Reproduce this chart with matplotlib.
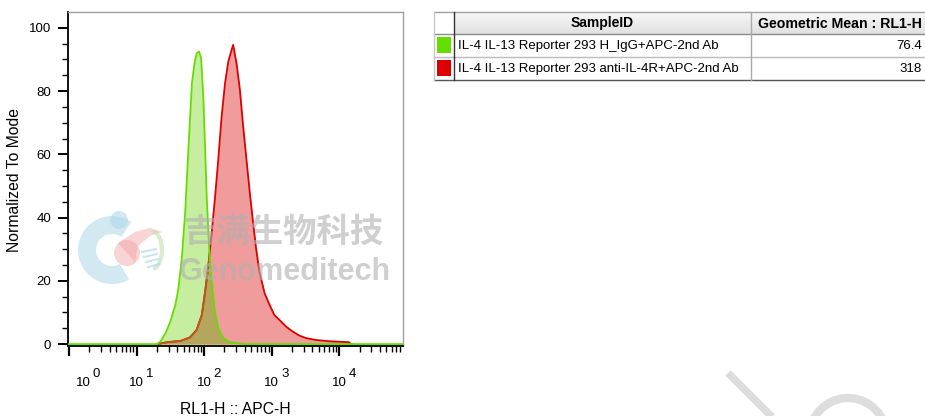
import numpy as np
import matplotlib
matplotlib.use("Agg")
import matplotlib.pyplot as plt
from matplotlib.patches import Rectangle, Wedge, Arc, Circle, Ellipse, Polygon

plt.rcParams['font.family'] = ['Liberation Sans', 'DejaVu Sans']

# ---- data ----
green_log = [-0.1, 1.30, 1.353, 1.43, 1.50, 1.574, 1.62, 1.67, 1.72, 1.77, 1.82, 1.858, 1.892,
             1.926, 1.956, 1.99, 2.015, 2.04, 2.078, 2.113, 2.16, 2.21, 2.284, 2.38, 2.53, 2.6, 5.0]
green_y = [0, 0, 0.8, 3.5, 7.1, 12.4, 17.6, 27, 41.7, 62.6, 82.5, 88.8, 92,
           92.5, 90.4, 77.3, 61.6, 45.9, 29.1, 19.7, 10.3, 5.0, 1.9, 0.6, 0.2, 0, 0]
red_log = [1.35, 1.45, 1.65, 1.79, 1.89, 1.966, 2.015, 2.064, 2.113, 2.16, 2.21, 2.26, 2.31,
           2.358, 2.407, 2.43, 2.48, 2.53, 2.578, 2.627, 2.676, 2.725, 2.77, 2.82, 2.897,
           2.97, 3.04, 3.118, 3.216, 3.31, 3.41, 3.51, 3.657, 3.85, 4.147, 4.17]
red_y = [0.2, 0.6, 1.0, 2.1, 4.5, 9.2, 16.5, 25, 35.4, 45.9, 58.4, 72, 82.5,
         89.3, 93, 94.6, 88.8, 80.4, 68.9, 58.4, 48, 38.5, 30.2, 22.8, 16,
         12.4, 9.2, 7.6, 5.5, 4.0, 2.7, 1.9, 1.3, 0.9, 0.6, 0]

y_ticks = [0, 20, 40, 60, 80, 100]
x_decades = [0, 1, 2, 3, 4]

sample_ids = ["IL-4 IL-13 Reporter 293 H_IgG+APC-2nd Ab",
              "IL-4 IL-13 Reporter 293 anti-IL-4R+APC-2nd Ab"]
geo_means = ["76.4", "318"]
sample_colors = ["#66dd00", "#dd0000"]
col_headers = ["SampleID", "Geometric Mean : RL1-H"]

# ---- figure ----
W, H = 925, 416
fig = plt.figure(figsize=(W / 100, H / 100), dpi=100)
ax = fig.add_axes([68 / W, 1 - 346 / H, (403 - 68) / W, (346 - 12) / H])

gx = 10 ** np.array(green_log)
rx = 10 ** np.array(red_log)
ax.fill_between(rx, red_y, 0, color="#f09c9c", lw=0, zorder=1)
ax.fill_between(gx, green_y, 0, color="#c6eda0", lw=0, zorder=2)

grid = np.linspace(1.3, 4.2, 800)
g = np.interp(grid, green_log, green_y)
r = np.interp(grid, red_log, red_y, left=0, right=0)
ov = np.minimum(g, r)
ax.fill_between(10 ** grid, ov, 0, color="#b4a65c", lw=0, zorder=3)
ax.plot(rx, red_y, color="#dd0000", lw=1.3, zorder=4)
brown = np.where(r <= g + 0.05, r, np.nan)
ax.plot(10 ** grid, brown, color="#b85c1a", lw=1.3, zorder=5)
ax.plot(gx, green_y, color="#66dd00", lw=1.3, zorder=6)

ax.set_xscale("log")
ax.set_xlim(10 ** -0.015, 10 ** 4.945)
ax.set_ylim(-0.6, 105)

ax.set_yticks(y_ticks)
ax.set_yticks(np.arange(0, 105, 5), minor=True)
ax.set_yticklabels([str(v) for v in y_ticks], fontsize=9.5)
ax.tick_params(axis="y", which="major", direction="out", length=7, width=1.4, pad=5)
ax.tick_params(axis="y", which="minor", direction="out", length=4, width=1.0)

ax.set_xticks([10.0 ** d for d in x_decades])
ax.set_xticklabels([""] * len(x_decades))
ax.xaxis.set_minor_locator(matplotlib.ticker.LogLocator(base=10, subs=np.arange(2, 10), numticks=20))
ax.xaxis.set_minor_formatter(matplotlib.ticker.NullFormatter())
ax.tick_params(axis="x", which="major", direction="out", length=7, width=1.6)
ax.tick_params(axis="x", which="minor", direction="out", length=4, width=1.0)

for d in x_decades:
    shift = 10 if d == 0 else 0
    ax.annotate("10", xy=(10.0 ** d, 0), xycoords=("data", "axes fraction"),
                xytext=(shift, -27), textcoords="offset points",
                ha="center", va="center", fontsize=9.5, annotation_clip=False)
    ax.annotate(str(d), xy=(10.0 ** d, 0), xycoords=("data", "axes fraction"),
                xytext=(shift + 9.5, -20), textcoords="offset points",
                ha="center", va="center", fontsize=9.5, annotation_clip=False)

for side in ["top", "right"]:
    ax.spines[side].set_color("#a0a0a0")
    ax.spines[side].set_linewidth(1.0)
for side in ["left", "bottom"]:
    ax.spines[side].set_color("#111111")
    ax.spines[side].set_linewidth(1.4)

fig.text(235 / W, 1 - 410 / H, "RL1-H :: APC-H", ha="center", va="center", fontsize=11.3)
fig.text(15 / W, 1 - 180 / H, "Normalized To Mode", ha="center", va="center",
         rotation=90, fontsize=11.3)

# ---- overlay (pixel coordinates) ----
ov_ax = fig.add_axes([0, 0, 1, 1], zorder=10)
ov_ax.set_xlim(0, W)
ov_ax.set_ylim(H, 0)
ov_ax.axis("off")

# watermark logo
ov_ax.add_patch(Wedge((112, 250), 34, 60, 305, width=18, color="#a8d4e6", alpha=0.5, lw=0))
ov_ax.add_patch(Circle((119, 220), 9, color="#a8d4e6", alpha=0.5, lw=0))
ov_ax.add_patch(Circle((127, 253), 13, color="#f2a0a0", alpha=0.45, lw=0))
ov_ax.add_patch(Polygon([(118, 243), (135, 232), (150, 228), (162, 232), (150, 236),
                         (138, 246), (135, 262)], closed=True, color="#f2a0a0", alpha=0.45, lw=0))
ov_ax.add_patch(Arc((150, 250), 24, 40, theta1=-80, theta2=80, color="#bfe0b0", lw=3, alpha=0.6))
for k in range(4):
    ov_ax.plot([142 + k * 2, 156 + k], [252 + k * 5, 249 + k * 5], color="#a8d4e6", lw=1.5, alpha=0.6)

ov_ax.text(283, 232, "吉满生物科技", ha="center", va="center", fontsize=24,
           family=["Noto Sans CJK SC", "DejaVu Sans"], fontweight="bold",
           color="#b0b0b0", alpha=0.6)
ov_ax.text(285, 272, "Genomeditech", ha="center", va="center", fontsize=22,
           fontweight="bold", color="#b0b0b0", alpha=0.6)

# bottom-right watermark strokes
ov_ax.plot([728, 774], [373, 419], color="#dddddd", lw=5.5, solid_capstyle="butt")
ov_ax.add_patch(Arc((848, 438), 78, 80, theta1=185, theta2=345, color="#dddddd", lw=6))

# table
top, hb, r1, r2 = 12, 34, 57, 80
x0, xs, xm, x1 = 434, 454, 751, 926
grad = np.linspace(0.97, 0.88, 50).reshape(-1, 1)
ov_ax.imshow(np.repeat(grad, 2, axis=1), cmap="gray", vmin=0, vmax=1,
             extent=[xs, x1, hb, top], aspect="auto", zorder=1, interpolation="bilinear")
ov_ax.set_xlim(0, W)
ov_ax.set_ylim(H, 0)
ov_ax.plot([x0, x1], [top, top], color="#a0a0a0", lw=1)
ov_ax.plot([x0, x1], [hb, hb], color="#8a8a8a", lw=1)
ov_ax.plot([x0, x1], [r1, r1], color="#bbbbbb", lw=1)
ov_ax.plot([x0, x1], [r2, r2], color="#555555", lw=1)
ov_ax.plot([x0, x0], [top, r2], color="#c8c8c8", lw=1)
ov_ax.plot([xs, xs], [top, r2], color="#333333", lw=1)
ov_ax.plot([xm, xm], [top, r2], color="#aaaaaa", lw=1)

ov_ax.text((xs + xm) / 2, (top + hb) / 2 + 0.5, col_headers[0], ha="center", va="center",
           fontsize=10, fontweight="bold")
ov_ax.text(922, (top + hb) / 2 + 0.5, col_headers[1], ha="right", va="center",
           fontsize=10.2, fontweight="bold")
rows = [(hb, r1), (r1, r2)]
for (ya, yb), sid, gm, c in zip(rows, sample_ids, geo_means, sample_colors):
    yc = (ya + yb) / 2
    ov_ax.add_patch(Rectangle((437, ya + 3), 14, 16, color=c, lw=0))
    ov_ax.text(458, yc + 0.5, sid, ha="left", va="center", fontsize=9.5)
    ov_ax.text(922, yc + 0.5, gm, ha="right", va="center", fontsize=9.5)

fig.savefig("out.png", dpi=100)
